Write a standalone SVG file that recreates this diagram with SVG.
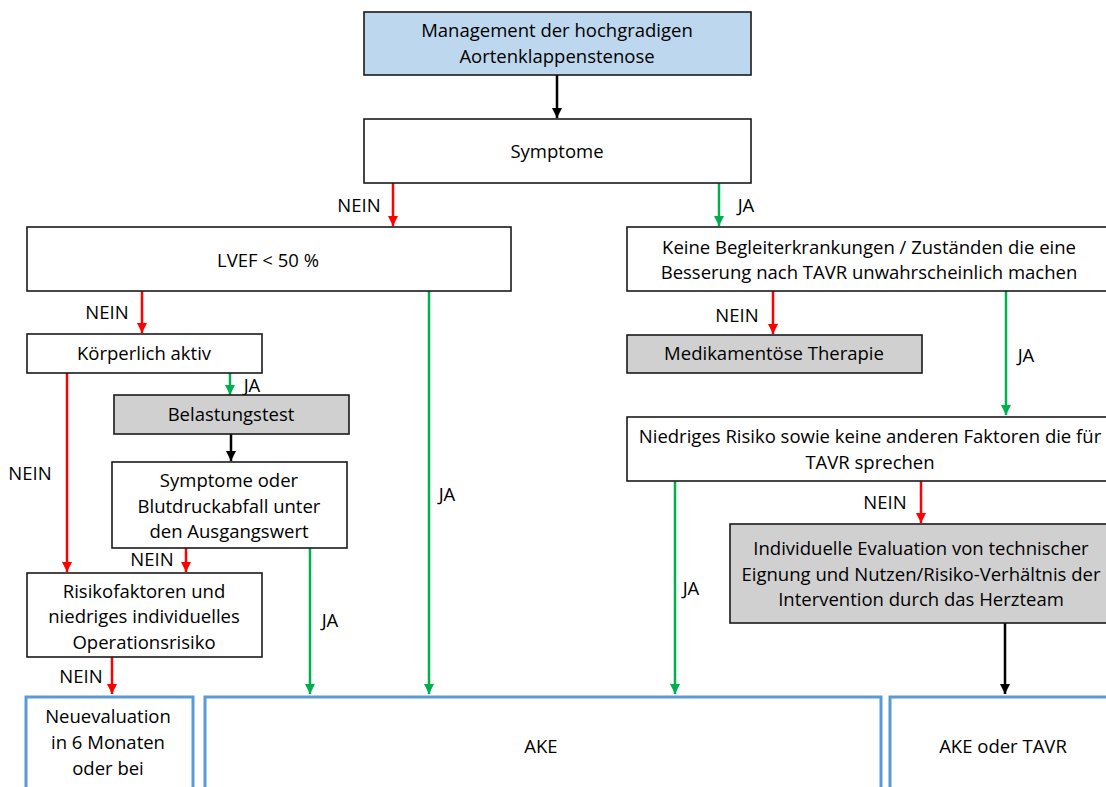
<svg xmlns="http://www.w3.org/2000/svg" width="1106" height="787" viewBox="0 0 1106 787">
<style>
.b{fill:#fff;stroke:#1a1a1a;stroke-width:1.6}
.g{fill:#d0d0d0;stroke:#1a1a1a;stroke-width:1.6}
.t1{fill:#bdd7ee;stroke:#1a1a1a;stroke-width:1.6}
.o{fill:#fff;stroke:#5b9bd5;stroke-width:3}
text{font-family:"Open Sans","Liberation Sans",sans-serif;font-size:18.5px;fill:#000;text-anchor:middle}
.r{stroke:#ff0000;stroke-width:2.5;fill:none;marker-end:url(#mr)}
.gr{stroke:#00b050;stroke-width:2.5;fill:none;marker-end:url(#mg)}
.k{stroke:#000;stroke-width:2.5;fill:none;marker-end:url(#mk)}
</style>
<defs>
<marker id="mr" markerUnits="userSpaceOnUse" markerWidth="10" markerHeight="10" viewBox="0 0 10 10" refX="10" refY="5" orient="auto"><path d="M0,0 L10,5 L0,10 Z" fill="#ff0000"/></marker>
<marker id="mg" markerUnits="userSpaceOnUse" markerWidth="10" markerHeight="10" viewBox="0 0 10 10" refX="10" refY="5" orient="auto"><path d="M0,0 L10,5 L0,10 Z" fill="#00b050"/></marker>
<marker id="mk" markerUnits="userSpaceOnUse" markerWidth="10" markerHeight="10" viewBox="0 0 10 10" refX="10" refY="5" orient="auto"><path d="M0,0 L10,5 L0,10 Z" fill="#000"/></marker>
</defs>
<rect width="1106" height="787" fill="#fff"/>
<g id="connectors">
<path class="k" d="M557,75 V118"/>
<path class="r" d="M393,183 V226"/>
<path class="gr" d="M719,183 V226"/>
<path class="r" d="M142,291 V333"/>
<path class="gr" d="M230,373 V395"/>
<path class="k" d="M231,434 V461"/>
<path class="r" d="M67,373 V572"/>
<path class="r" d="M186,548 V572"/>
<path class="gr" d="M310,548 V694"/>
<path class="gr" d="M429,291 V694"/>
<path class="r" d="M112,657 V694"/>
<path class="r" d="M773,291 V334"/>
<path class="gr" d="M1006,291 V415"/>
<path class="gr" d="M675,481 V694"/>
<path class="r" d="M921,481 V523"/>
<path class="k" d="M1005,623 V694"/>
</g>
<g id="labels">
<text x="359" y="212">NEIN</text>
<text x="746" y="212">JA</text>
<text x="107" y="319">NEIN</text>
<text x="252" y="392">JA</text>
<text x="30" y="480">NEIN</text>
<text x="447" y="501">JA</text>
<text x="152" y="566">NEIN</text>
<text x="330" y="627">JA</text>
<text x="81" y="683">NEIN</text>
<text x="737" y="322">NEIN</text>
<text x="1026" y="362">JA</text>
<text x="885" y="509">NEIN</text>
<text x="691" y="595">JA</text>
</g>
<g id="n-top"><rect class="t1" x="364" y="12" width="387" height="63"/><text x="557" y="37">Management der hochgradigen</text><text x="557" y="63">Aortenklappenstenose</text></g>
<g id="n-symptome"><rect class="b" x="364" y="119" width="387" height="64"/><text x="557" y="158">Symptome</text></g>
<g id="n-lvef"><rect class="b" x="27" y="227" width="484" height="64"/><text x="268" y="267">LVEF &lt; 50 %</text></g>
<g id="n-koerperlich"><rect class="b" x="27" y="334" width="235" height="39"/><text x="144" y="360">Körperlich aktiv</text></g>
<g id="n-belastung"><rect class="g" x="114" y="395" width="235" height="39"/><text x="231" y="421">Belastungstest</text></g>
<g id="n-sympoder"><rect class="b" x="112" y="462" width="235" height="86"/><text x="229" y="487">Symptome oder</text><text x="229" y="513">Blutdruckabfall unter</text><text x="229" y="538">den Ausgangswert</text></g>
<g id="n-risiko"><rect class="b" x="27" y="573" width="235" height="84"/><text x="144" y="598">Risikofaktoren und</text><text x="144" y="623">niedriges individuelles</text><text x="144" y="649">Operationsrisiko</text></g>
<g id="n-keine"><rect class="b" x="627" y="227" width="485" height="64"/><text x="869" y="254">Keine Begleiterkrankungen / Zuständen die eine</text><text x="869" y="279">Besserung nach TAVR unwahrscheinlich machen</text></g>
<g id="n-medi"><rect class="g" x="627" y="335" width="295" height="38"/><text x="774" y="360">Medikamentöse Therapie</text></g>
<g id="n-niedrig"><rect class="b" x="627" y="417" width="485" height="64"/><text x="870" y="443">Niedriges Risiko sowie keine anderen Faktoren die für</text><text x="870" y="469">TAVR sprechen</text></g>
<g id="n-indiv"><rect class="g" x="730" y="524" width="382" height="99"/><text x="921" y="555">Individuelle Evaluation von technischer</text><text x="921" y="581">Eignung und Nutzen/Risiko-Verhältnis der</text><text x="921" y="606">Intervention durch das Herzteam</text></g>
<g id="n-neu"><rect class="o" x="26" y="697" width="167" height="100"/><text x="108" y="723">Neuevaluation</text><text x="108" y="749">in 6 Monaten</text><text x="108" y="775">oder bei</text></g>
<g id="n-ake"><rect class="o" x="205" y="697" width="676" height="100"/><text x="541" y="753">AKE</text></g>
<g id="n-aketavr"><rect class="o" x="890" y="697" width="230" height="100"/><text x="1003" y="753">AKE oder TAVR</text></g>
</svg>
